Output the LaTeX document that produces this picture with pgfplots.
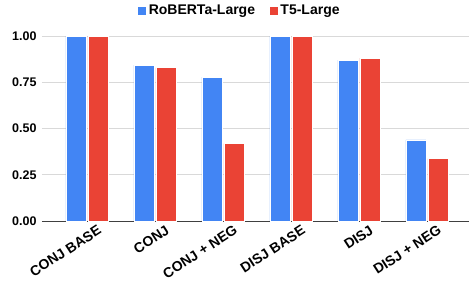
\documentclass[border=0pt]{standalone}
\usepackage{pgfplots}
\pgfplotsset{compat=1.18}
\usepackage{fontspec}
\setmainfont{Liberation Sans}
\definecolor{gblue}{HTML}{4285F4}
\definecolor{gred}{HTML}{EA4335}
\definecolor{ggrid}{HTML}{D9D9D9}
\begin{document}
\begin{tikzpicture}
\useasboundingbox (-42pt,-63pt) rectangle (427pt,221pt);
\begin{axis}[
  anchor=south west, at={(0pt,0pt)},
  scale only axis, width=427pt, height=185pt,
  ybar, bar width=20pt,
  xmin=-0.66, xmax=5.62, ymin=0, ymax=1,
  xtick={0,1,2,3,4,5},
  xticklabels={CONJ BASE, CONJ, CONJ + NEG, DISJ BASE, DISJ, DISJ + NEG},
  ytick={0,0.25,0.5,0.75,1},
  yticklabel={\pgfmathprintnumber[fixed,fixed zerofill,precision=2]{\tick}},
  /pgf/number format/assume math mode=true,
  major tick length=0,
  axis line style={draw=none},
  ymajorgrids, grid style={ggrid, line width=0.6pt},
  extra y ticks={0}, extra y tick labels={},
  extra y tick style={grid style={black!75, line width=0.8pt}},
  yticklabel style={xshift=-2pt, font=\fontsize{12.5}{14}\selectfont\bfseries},
  xticklabel style={rotate=33, anchor=north east, xshift=10pt, yshift=-5pt,
    font=\fontsize{14}{16}\selectfont\bfseries},
  legend style={at={(0.5,1.0)}, xshift=-16pt, yshift=35pt, anchor=north, draw=none, legend columns=2,
    font=\fontsize{14}{16}\selectfont\bfseries,
    /tikz/every even column/.append style={column sep=12pt}},
  legend image code/.code={\fill[#1] (0pt,-4.5pt) rectangle (9pt,4.5pt);},
]
\addplot[fill=gblue, draw=white, line width=0.4pt, bar shift=-11pt] coordinates {(0,1.0) (1,0.842) (2,0.778) (3,1.0) (4,0.870) (5,0.438)};
\addplot[fill=gred, draw=white, line width=0.4pt, bar shift=11pt] coordinates {(0,1.0) (1,0.829) (2,0.418) (3,1.0) (4,0.881) (5,0.337)};
\legend{RoBERTa-Large, T5-Large}
\end{axis}
\end{tikzpicture}
\end{document}
